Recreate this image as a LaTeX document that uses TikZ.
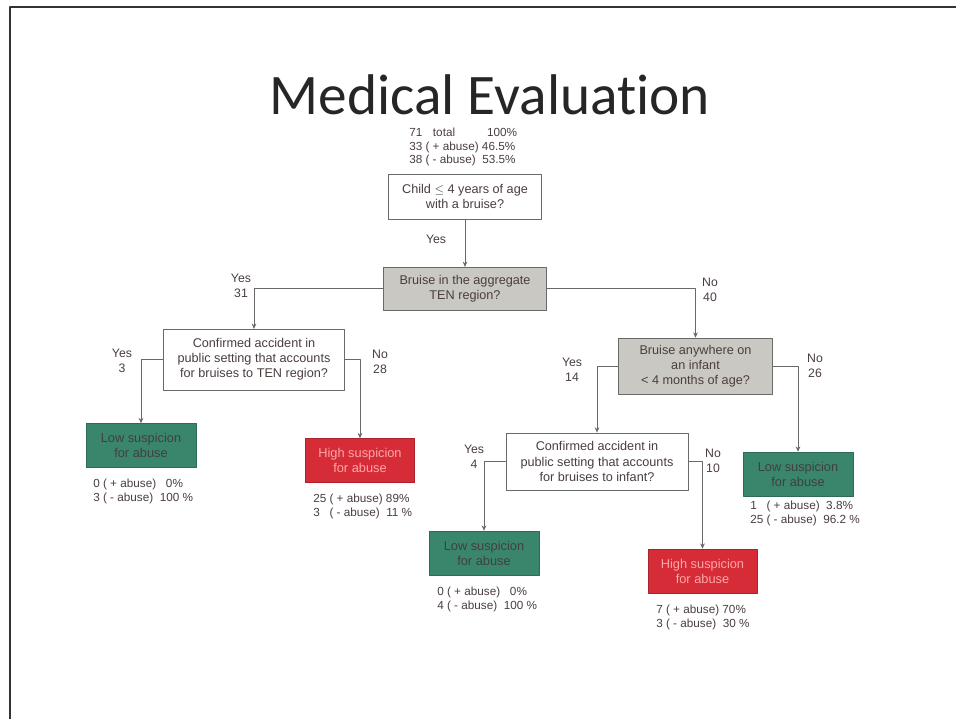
\documentclass[tikz,border=0pt]{standalone}
\usepackage{fontspec}
\setmainfont{Liberation Sans}
\newfontfamily\titlefont[Ligatures=NoCommon]{Carlito}
\usetikzlibrary{arrows.meta}

\definecolor{boxgray}{RGB}{202,200,194}
\definecolor{lowgreen}{RGB}{58,134,108}
\definecolor{highred}{RGB}{214,44,56}
\definecolor{linegray}{RGB}{105,105,105}
\definecolor{txtgray}{RGB}{75,62,62}

\tikzset{
  qbox/.style={draw=linegray, fill=white, align=center, inner sep=1pt,
    text=txtgray, font=\fontsize{9.5}{11.3}\selectfont},
  graybox/.style={qbox, fill=boxgray},
  lowbox/.style={draw=lowgreen!80!black, fill=lowgreen, align=center, text=black!75,
    font=\fontsize{9.6}{11.3}\selectfont, minimum width=82.5pt, minimum height=33pt},
  highbox/.style={draw=highred!80!black, fill=highred, align=center, text=red!35!white,
    font=\fontsize{9.6}{11.3}\selectfont, minimum width=82pt, minimum height=33pt},
  stats/.style={anchor=north west, align=left, inner sep=0pt, text=txtgray,
    font=\fontsize{8.8}{10}\selectfont},
  branch/.style={align=center, inner sep=0pt, text=txtgray, font=\fontsize{9.2}{11}\selectfont},
  link/.style={draw=linegray, line width=0.5pt, -{Stealth[length=4pt, width=3.5pt]}}
}

\begin{document}
\begin{tikzpicture}[x=0.75pt, y=-0.75pt, line join=round]
  \useasboundingbox[fill=white] (0,0) rectangle (956,719);
  % slide frame
  \draw[black!80, line width=2pt] (10,719) -- (10,7) -- (956,7);

  \node[inner sep=0pt, font=\titlefont\fontsize{43}{46}\selectfont, text=black!85] (title) at (490,95) {Medical Evaluation};
  \node[stats] (total) at (409,128) {71\hspace{8pt}total\hspace{24pt}100\%\\33 ( + abuse) 46.5\%\\38 ( - abuse)\ \ 53.5\%};

  % questions
  \node[qbox, minimum width=115pt, minimum height=33.75pt] (root) at (465,196.5) {Child $\leq$ 4 years of age\\with a bruise?};
  \node[graybox, minimum width=122pt, minimum height=32pt] (ten) at (465,288.5) {Bruise in the aggregate\\TEN region?};
  \node[qbox, minimum width=136pt, minimum height=45.5pt] (conf1) at (254,359.5) {Confirmed accident in\\public setting that accounts\\for bruises to TEN region?};
  \node[graybox, minimum width=115.5pt, minimum height=42pt] (infant) at (695.5,366) {Bruise anywhere on\\an infant\\< 4 months of age?};
  \node[qbox, minimum width=136.5pt, minimum height=43pt] (conf2) at (597,461.5) {Confirmed accident in\\public setting that accounts\\for bruises to infant?};

  % outcomes
  \node[lowbox] (low1) at (141,445.5) {Low suspicion\\for abuse};
  \node[highbox] (high1) at (360,460.5) {High suspicion\\for abuse};
  \node[lowbox] (low3) at (798,474) {Low suspicion\\for abuse};
  \node[lowbox] (low2) at (484,553) {Low suspicion\\for abuse};
  \node[highbox] (high2) at (702.5,571) {High suspicion\\for abuse};

  \node[stats] (s1) at (93,479) {0 ( + abuse)\ \ \ 0\%\\3 ( - abuse)\ \ 100 \%};
  \node[stats] (s2) at (313,494) {25 ( + abuse) 89\%\\3\ \ \ ( - abuse)\ \ 11 \%};
  \node[stats] (s3) at (750,501) {1\ \ \ ( + abuse)\ \ 3.8\%\\25 ( - abuse)\ \ 96.2 \%};
  \node[stats] (s4) at (437,587) {0 ( + abuse)\ \ \ 0\%\\4 ( - abuse)\ \ 100 \%};
  \node[stats] (s5) at (656,605) {7 ( + abuse) 70\%\\3 ( - abuse)\ \ 30 \%};

  % connectors
  \draw[link] (root.south) -- (ten.north);
  \foreach \from/\to in {ten.west/conf1, ten.east/infant, conf1.west/low1, conf1.east/high1,
                         infant.west/conf2, infant.east/low3, conf2.west/low2, conf2.east/high2}
    \draw[link] (\from) -| (\to.north);

  % branch labels
  \foreach \name/\x/\y/\txt in {y0/436/239/Yes, y1/241/286/Yes\\31, n1/710/290/No\\40,
                               y2/122/361/Yes\\3, n2/380/362/No\\28, y3/572/370/Yes\\14,
                               n3/815/366/No\\26, y4/474/457/Yes\\4, n4/713/461/No\\10}
    \node[branch] (\name) at (\x,\y) {\txt};
\end{tikzpicture}
\end{document}
